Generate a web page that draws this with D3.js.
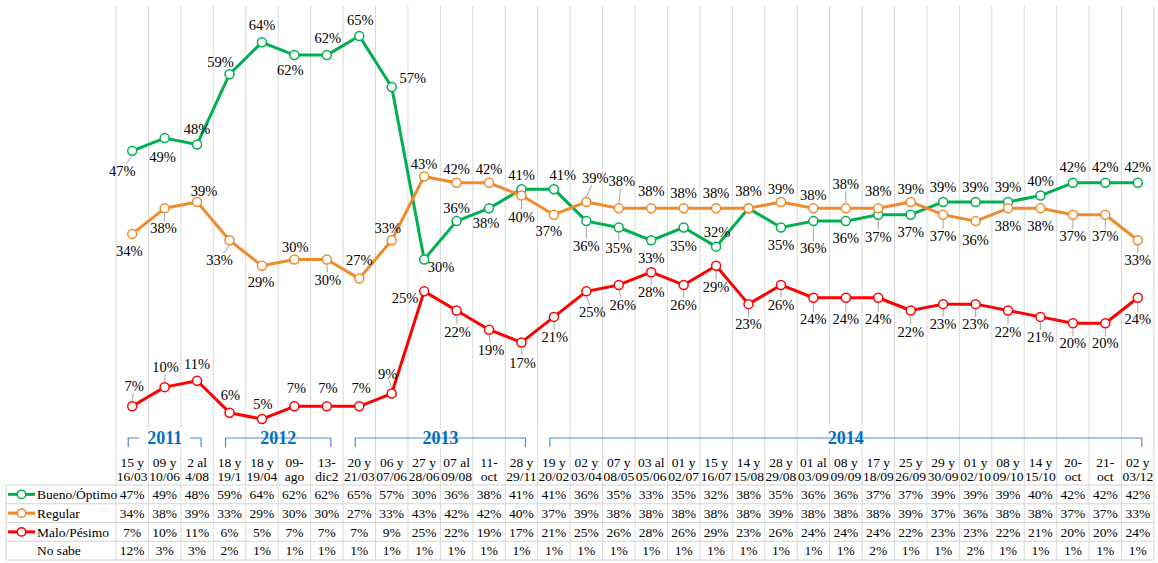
<!DOCTYPE html>
<html>
<head>
<meta charset="utf-8">
<script src="https://d3js.org/d3.v7.min.js"></script>
<style>
  body { margin: 0; background: #fff; }
</style>
</head>
<body>
<div id="chart-area"></div>
<script>
// Data
var categories = ['15 y 16/03', '09 y 10/06', '2 al 4/08', '18 y 19/1', '18 y 19/04', '09-ago', '13-dic2',
    '20 y 21/03', '06 y 07/06', '27 y 28/06', '07 al 09/08', '11-oct', '28 y 29/11',
    '19 y 20/02', '02 y 03/04', '07 y 08/05', '03 al 05/06', '01 y 02/07', '15 y 16/07', '14 y 15/08',
    '28 y 29/08', '01 al 03/09', '08 y 09/09', '17 y 18/09', '25 y 26/09', '29 y 30/09', '01 y 02/10',
    '08 y 09/10', '14 y 15/10', '20-oct', '21-oct', '02 y 03/12'];

var bueno   = [47, 49, 48, 59, 64, 62, 62, 65, 57, 30, 36, 38, 41, 41, 36, 35, 33, 35, 32, 38, 35, 36, 36, 37, 37, 39, 39, 39, 40, 42, 42, 42];
var regular = [34, 38, 39, 33, 29, 30, 30, 27, 33, 43, 42, 42, 40, 37, 39, 38, 38, 38, 38, 38, 39, 38, 38, 38, 39, 37, 36, 38, 38, 37, 37, 33];
var malo    = [7, 10, 11, 6, 5, 7, 7, 7, 9, 25, 22, 19, 17, 21, 25, 26, 28, 26, 29, 23, 26, 24, 24, 24, 22, 23, 23, 22, 21, 20, 20, 24];
var noSabe  = [12, 3, 3, 2, 1, 1, 1, 1, 1, 1, 1, 1, 1, 1, 1, 1, 1, 1, 1, 1, 1, 1, 1, 2, 1, 1, 2, 1, 1, 1, 1, 1];

var seriesNames = ['Bueno/Óptimo', 'Regular', 'Malo/Pésimo', 'No sabe'];

var years = ['2011', '2012', '2013', '2014'];
var yearFirst = [0, 3, 7, 13];
var yearLast = [2, 6, 12, 31];

// label offsets (label centre relative to the marker), as placed in the original; null = no label
var buenoOff = [[-10,20],[-2,19],[0,-16],[-9,-12],[0,-17],[-4,15],[1,-17],[1,-16],[21,-9],[17,7],[0,-13],[-3,15],[0,-14],
    [9,-14],[0,25],[0,20],[0,18],[0,18],[1,-15],[0,-17],[0,17],[0,27],[0,17],[0,22],[0,17],[0,-15],[0,-15],[0,-15],[0,-15],[0,-16],[0,-16],[0,-16]];
var regularOff = [[-3,17],[-1,20],[7,-11],[-10,20],[-1,16],[1,-13],[1,20],[0,-19],[-4,-12],[0,-12],[0,-14],[0,-14],[0,21],
    [-5,16],[9,-24],[3,-27],[0,-17],[0,-15],[0,-15],null,[0,-13],[0,-13],[0,-24],[0,-17],[0,-13],[0,21],[0,19],[0,18],[0,18],[0,21],[0,21],[0,20]];
var maloOff = [[2,-20],[1,-20],[0,-17],[1,-18],[1,-15],[2,-18],[1,-18],[2,-18],[-4,-20],[-19,7],[1,21],[2,20],[1,20],
    [1,20],[6,21],[4,20],[0,20],[0,20],[0,21],[0,20],[0,20],[0,21],[0,21],[0,21],[0,21],[0,20],[0,20],[0,21],[0,20],[0,20],[0,20],[0,21]];

var width = 1158, height = 563;
var plotLeft = 116, plotRight = 1154;
var gridTop = 6;
var tableTop = 485, rowH = 18.75;
var serif = '"Liberation Serif", "Times New Roman", Times, "DejaVu Serif", serif';

var svg = d3.select('#chart-area')
    .append('svg')
        .attr('width', width)
        .attr('height', height)
        .attr('font-family', serif)
        .style('font-family', serif);

//X Scale
var x = d3.scaleBand()
    .domain(categories)
    .range([plotLeft, plotRight])
    .padding(0);
var bw = x.bandwidth();
function cx(i) { return x(categories[i]) + bw / 2; }

//Y Scale
var y = d3.scaleLinear()
    .domain([0, 70])
    .range([451, 4]);

var tableBottom = tableTop + rowH * 4;

// vertical grid lines (run through header and table)
var gridX = categories.map(function(c){ return x(c); }).concat([plotRight]);
svg.append('g').selectAll('line')
    .data(gridX)
    .enter().append('line')
        .attr('x1', function(d){ return d; })
        .attr('x2', function(d){ return d; })
        .attr('y1', gridTop)
        .attr('y2', tableBottom)
        .attr('stroke', '#d9d9d9')
        .attr('stroke-width', 1);

// table horizontal lines
svg.append('g').selectAll('line')
    .data(d3.range(5))
    .enter().append('line')
        .attr('x1', 6)
        .attr('x2', plotRight)
        .attr('y1', function(d){ return tableTop + d * rowH; })
        .attr('y2', function(d){ return tableTop + d * rowH; })
        .attr('stroke', '#d4d4d4')
        .attr('stroke-width', 1);
svg.append('line')
    .attr('x1', 6).attr('x2', 6)
    .attr('y1', tableTop).attr('y2', tableBottom)
    .attr('stroke', '#d4d4d4');

// year brackets
var yearG = svg.append('g');
years.forEach(function(yr, k){
    var x1 = cx(yearFirst[k]) - 4, x2 = cx(yearLast[k]) + 4;
    var ly = 438;
    yearG.append('path')
        .attr('d', 'M' + x1 + ',' + (ly + 9) + 'V' + ly + 'H' + x2 + 'V' + (ly + 9))
        .attr('fill', 'none')
        .attr('stroke', '#5b86cf')
        .attr('stroke-width', 1.2);
    var t = yearG.append('text')
        .attr('x', (x1 + x2) / 2)
        .attr('y', ly)
        .attr('dy', '0.35em')
        .attr('text-anchor', 'middle')
        .attr('font-size', '18px')
        .attr('font-weight', 'bold')
        .attr('fill', '#0070c0')
        .text(yr);
    var b = t.node().getBBox();
    yearG.insert('rect', 'text')
        .attr('x', b.x - 8)
        .attr('y', b.y)
        .attr('width', b.width + 16)
        .attr('height', b.height)
        .attr('fill', '#fff');
});
yearG.selectAll('text').raise();

// header text
var header = svg.append('g');
categories.forEach(function(c, i){
    var parts;
    var sp = c.lastIndexOf(' ');
    if (sp > 0) parts = [c.slice(0, sp), c.slice(sp + 1)];
    else { var h = c.indexOf('-'); parts = [c.slice(0, h + 1), c.slice(h + 1)]; }
    parts.forEach(function(p, j){
        header.append('text')
            .attr('x', cx(i))
            .attr('y', 467 + j * 14)
            .attr('text-anchor', 'middle')
            .attr('font-size', '13.5px')
            .attr('fill', '#000')
            .text(p);
    });
});

// series
var series = [
    {values: bueno, color: '#00b050', off: buenoOff},
    {values: regular, color: '#ef8a2d', off: regularOff},
    {values: malo, color: '#ff0000', off: maloOff}
];

var line = d3.line()
    .x(function(d, i){ return cx(i); })
    .y(function(d){ return y(d); });

series.forEach(function(s){
    var g = svg.append('g');
    g.append('path')
        .datum(s.values)
        .attr('d', line)
        .attr('fill', 'none')
        .attr('stroke', s.color)
        .attr('stroke-width', 3)
        .attr('stroke-linejoin', 'round');
    g.selectAll('circle')
        .data(s.values)
        .enter().append('circle')
            .attr('cx', function(d, i){ return cx(i); })
            .attr('cy', function(d){ return y(d); })
            .attr('r', 4.5)
            .attr('fill', '#fff')
            .attr('stroke', s.color)
            .attr('stroke-width', 1.5);
});

// data labels (after all lines so they sit on top)
series.forEach(function(s){
    var g = svg.append('g');
    var pts = s.values.map(function(v, i){
        return s.off[i] ? {v: v, i: i, dx: s.off[i][0], dy: s.off[i][1]} : null;
    }).filter(function(p){ return p; });
    // leader lines for labels pushed further away
    g.selectAll('line')
        .data(pts.filter(function(p){ return Math.abs(p.dy) >= 20 && Math.abs(p.dx) < 12; }))
        .enter().append('line')
            .attr('x1', function(p){ return cx(p.i); })
            .attr('x2', function(p){ return cx(p.i) + p.dx * 0.6; })
            .attr('y1', function(p){ return y(p.v) + (p.dy > 0 ? 5 : -5); })
            .attr('y2', function(p){ return y(p.v) + p.dy + (p.dy > 0 ? -7 : 7); })
            .attr('stroke', '#a6a6a6')
            .attr('stroke-width', 1);
    g.selectAll('text')
        .data(pts)
        .enter().append('text')
            .attr('x', function(p){ return cx(p.i) + p.dx; })
            .attr('y', function(p){ return y(p.v) + p.dy; })
            .attr('dy', '0.35em')
            .attr('text-anchor', 'middle')
            .attr('font-size', '14.5px')
            .attr('fill', '#000')
            .text(function(p){ return p.v + '%'; });
});

// table body
var rows = [bueno, regular, malo, noSabe];
var rowColors = ['#00b050', '#ef8a2d', '#ff0000', null];
var table = svg.append('g');
rows.forEach(function(r, k){
    var cy = tableTop + k * rowH + rowH / 2;
    if (rowColors[k]) {
        table.append('line')
            .attr('x1', 8).attr('x2', 35)
            .attr('y1', cy).attr('y2', cy)
            .attr('stroke', rowColors[k])
            .attr('stroke-width', 3);
        table.append('circle')
            .attr('cx', 21.5).attr('cy', cy)
            .attr('r', 4.2)
            .attr('fill', '#fff')
            .attr('stroke', rowColors[k])
            .attr('stroke-width', 1.5);
    }
    table.append('text')
        .attr('x', 37)
        .attr('y', cy)
        .attr('dy', '0.35em')
        .attr('font-size', '13.5px')
        .attr('fill', '#000')
        .text(seriesNames[k]);
    table.selectAll('text.v' + k)
        .data(r)
        .enter().append('text')
            .attr('class', 'v' + k)
            .attr('x', function(d, i){ return cx(i); })
            .attr('y', cy)
            .attr('dy', '0.35em')
            .attr('text-anchor', 'middle')
            .attr('font-size', '13.5px')
            .attr('fill', '#000')
            .text(function(d){ return d + '%'; });
});
</script>
</body>
</html>
